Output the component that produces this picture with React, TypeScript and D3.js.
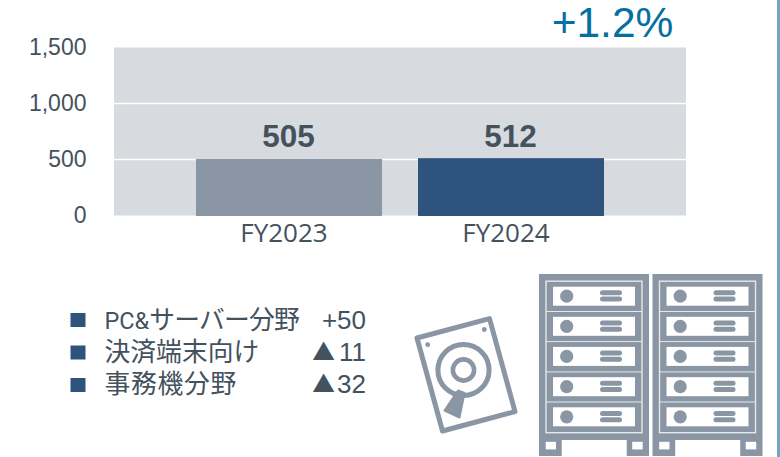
import React from "react";
import * as d3 from "d3";

const categories = ["FY2023", "FY2024"];
const values = [505, 512];
const barColors = ["#8a96a3", "#2e547d"];
const yTicks = [0, 500, 1000, 1500];
const legendPrefixes = ["PC&", "", ""];
const legendLabels = ["サーバー分野", "決済端末向け", "事務機分野"];
const legendMarks = ["+", "▲", "▲"];
const legendValues = ["50", "11", "32"];
const growthLabel = "+1.2%";

const INK = "#44525e";
const GRAY = "#8a96a3";
const SANS = "'Liberation Sans', Arial, sans-serif";
const CJK = "'Noto Sans CJK JP', sans-serif";
const LEGEND_TRACKING = [-0.8, 0, 0.7];

const y = d3.scaleLinear().domain([0, 1500]).range([215.5, 47.5]);
const x = d3.scaleBand<string>().domain(categories).range([178, 622]).paddingInner(36 / 222).paddingOuter(18 / 222);
const slotTops = [286.7, 316.8, 346.9, 377.2, 407.3];

function Rack({ dx }: { dx: number }) {
  return (
    <g transform={`translate(${dx},0)`}>
      <rect x={539} y={274} width={110} height={166} fill={GRAY} />
      <rect x={539} y={440} width={22.7} height={16} fill={GRAY} />
      <rect x={626.7} y={440} width={22.3} height={16} fill={GRAY} />
      <rect x={546} y={281.2} width={96} height={151.5} fill="none" stroke="#e4e8ec" strokeWidth={1.4} />
      {slotTops.map((t, i) => (
        <g key={i}>
          {i > 0 && <rect x={546} y={t - 5.8} width={96} height={1} fill="#e4e8ec" />}
          <rect x={553} y={t} width={82} height={19} fill="#fff" />
          <circle cx={566.7} cy={t + 9.5} r={6.6} fill={GRAY} />
          <rect x={600} y={t + 3.6} width={22} height={5} rx={2.5} fill={GRAY} />
          <rect x={600} y={t + 9.9} width={22} height={5} rx={2.5} fill={GRAY} />
        </g>
      ))}
      <rect x={545.7} y={441.8} width={10.3} height={7.6} fill="#fff" />
      <rect x={632.2} y={441.8} width={10.5} height={7.6} fill="#fff" />
    </g>
  );
}

function Disk() {
  return (
    <g>
      <polygon points="417,338 489.5,318.6 515,411.6 442.5,431" fill="#fff" stroke={GRAY} strokeWidth={5} strokeLinejoin="round" />
      <circle cx={427.7} cy={344.7} r={2.4} fill={GRAY} />
      <circle cx={484.3} cy={329.5} r={2.4} fill={GRAY} />
      <circle cx={463.5} cy={370} r={25.6} fill="none" stroke={GRAY} strokeWidth={5} />
      <circle cx={463.5} cy={370} r={10.6} fill="none" stroke={GRAY} strokeWidth={4.6} />
      <polygon points="458,390.5 464.5,393 459.5,417.5 444.5,410.5" fill={GRAY} stroke={GRAY} strokeWidth={2} strokeLinejoin="round" />
    </g>
  );
}

export default function App() {
  return (
    <svg width={780} height={457} style={{ position: "fixed", left: 0, top: 0, background: "#fff" }}>
      <rect x={114} y={47.5} width={572} height={168} fill="#d7dbdf" />
      {yTicks.slice(1, 3).map((t) => (
        <line key={t} x1={114} x2={686} y1={y(t)} y2={y(t)} stroke="#fff" strokeWidth={1.7} />
      ))}
      {yTicks.map((t) => (
        <text key={t} x={86.5} y={y(t) + 7.3} textAnchor="end" fontFamily={SANS} fontSize={23} fill={INK}>
          {d3.format(",")(t)}
        </text>
      ))}
      {categories.map((c, i) => (
        <g key={c}>
          <rect x={x(c)} y={y(values[i])} width={x.bandwidth()} height={216 - y(values[i])} fill={barColors[i]} />
          <text x={x(c)! + x.bandwidth() / 2 - 0.5} y={146.5} textAnchor="middle" fontFamily={SANS} fontWeight={700} fontSize={31.5} fill={INK}>
            {values[i]}
          </text>
          <text x={x(c)! + x.bandwidth() / 2 - 5} y={242} textAnchor="middle" fontFamily="'Open Sans', sans-serif" fontSize={26} fill={INK}>
            {c}
          </text>
        </g>
      ))}
      <text x={612.5} y={37} textAnchor="middle" fontFamily={SANS} fontSize={42.5} fill="#066fa1">
        {growthLabel}
      </text>
      {legendLabels.map((l, i) => {
        const sy = 320 + i * 32.5;
        const by = 328.5 + i * 32;
        return (
          <g key={l}>
            <rect x={70.5} y={sy - 7} width={15} height={14} fill="#2e547d" />
            <text x={104.5} y={by} fontFamily={CJK} fontSize={25.8} fill={INK} letterSpacing={LEGEND_TRACKING[i]}>
              {legendPrefixes[i] && (
                <tspan fontFamily="'Liberation Sans Narrow', Roboto, sans-serif" fontSize={23.5} letterSpacing={0}>
                  {legendPrefixes[i]}
                </tspan>
              )}
              {l}
            </text>
            <text x={366} y={by} textAnchor="end" fontFamily={SANS} fontSize={26} fill={INK}>
              {legendMarks[i] === "▲" ? legendValues[i] : legendMarks[i] + legendValues[i]}
            </text>
            {legendMarks[i] === "▲" && (
              <text x={335} y={by - 0.5} textAnchor="end" fontFamily={CJK} fontSize={22.7} fill={INK}>
                {legendMarks[i]}
              </text>
            )}
          </g>
        );
      })}
      <Disk />
      <Rack dx={0} />
      <Rack dx={113.5} />
      <rect x={777} y={0} width={3} height={457} fill="#7aa3cc" />
    </svg>
  );
}
